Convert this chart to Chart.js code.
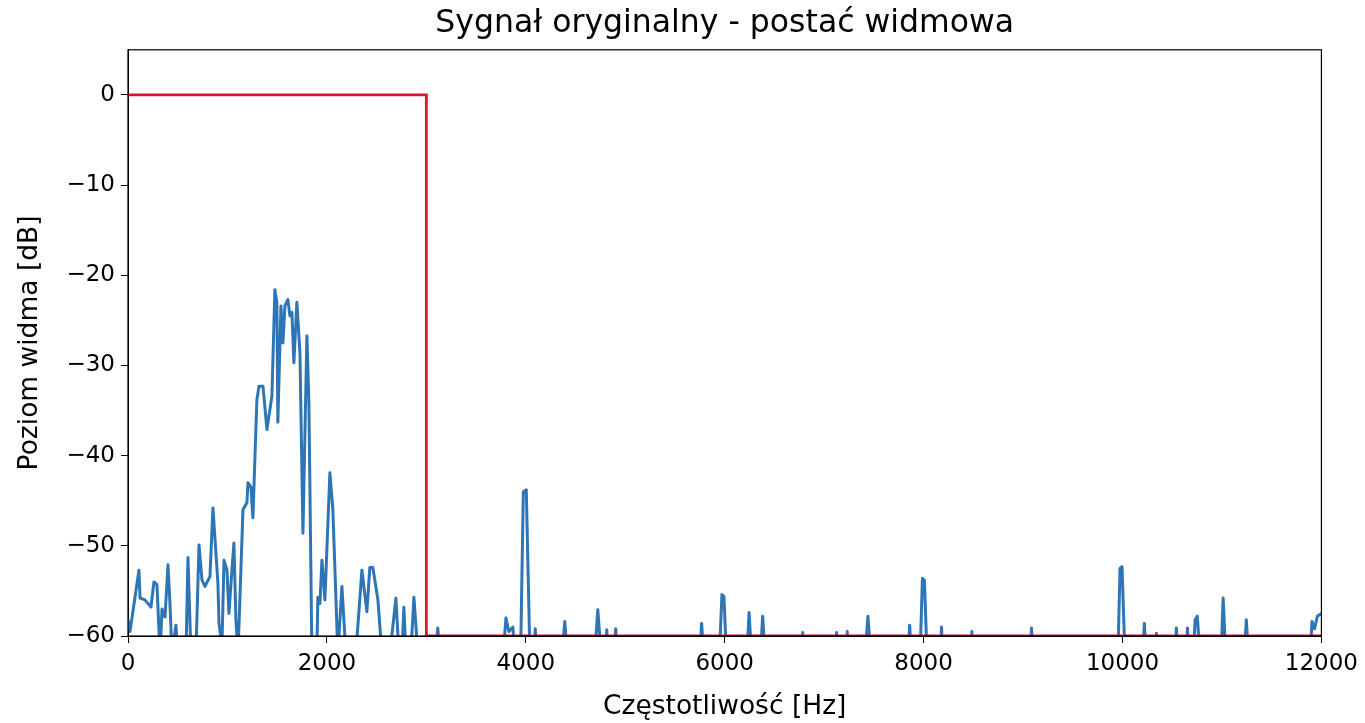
<!DOCTYPE html>
<html>
<head>
<meta charset="utf-8">
<title>Sygnał oryginalny - postać widmowa</title>
<script src="https://cdn.jsdelivr.net/npm/chart.js@4/dist/chart.umd.min.js"></script>
<style>
  html, body { margin: 0; padding: 0; background: #fff; }
  #wrap { width: 1365px; height: 723px; }
</style>
</head>
<body>
<div id="wrap"><canvas id="spectrum" width="1365" height="723"></canvas></div>
<script>
// spectrum of the original signal (Hz / dB), values below -60 fall outside the plot
const freqHz = [
  0, 20, 110, 121, 171, 231, 261, 291, 322, 342, 372, 402, 422, 442, 482, 502,
  583, 603, 633, 683, 714, 744, 774, 824, 854, 904, 915, 945, 965, 995, 1015, 1045,
  1065, 1085, 1106, 1156, 1196, 1206, 1236, 1256, 1296, 1317, 1357, 1397, 1447, 1477,
  1497, 1507, 1538, 1558, 1578, 1608, 1628, 1648, 1668, 1698, 1729, 1759, 1799, 1819,
  1849, 1899, 1909, 1930, 1950, 1980, 2030, 2060, 2110, 2151, 2191, 2291, 2352, 2402,
  2432, 2462, 2513, 2553, 2633, 2694, 2724, 2754, 2774, 2794, 2844, 2875, 2915, 2960,
  3080, 3115, 3150, 3760, 3800, 3830, 3870, 3900, 3945, 3975, 4005, 4045, 4075, 4095, 4115,
  4350, 4392, 4430, 4680, 4724, 4770, 4800, 4814, 4830, 4880, 4904, 4930,
  5740, 5768, 5800, 5940, 5972, 5992, 6025, 6215, 6245, 6280, 6350, 6382, 6415,
  6770, 6784, 6800, 7110, 7125, 7140, 7215, 7232, 7250, 7400, 7440, 7480,
  7835, 7860, 7885, 7960, 7988, 8008, 8040, 8160, 8180, 8200, 8470, 8485, 8500,
  9060, 9085, 9110, 9950, 9975, 9995, 10030, 10195, 10220, 10245, 10325, 10341, 10358,
  10520, 10542, 10565, 10630, 10653, 10675, 10705, 10730, 10752, 10790,
  10985, 11012, 11045, 11215, 11245, 11275, 11880, 11905, 11930, 11960, 12000
];
const levelDb = [
  -58.2, -59.5, -52.7, -55.8, -56, -56.8, -54, -54.3, -62, -57, -57.9, -52.1, -56.4, -62, -58.8, -62,
  -62, -51.3, -62, -62, -49.9, -53.8, -54.5, -53.4, -45.8, -54.1, -58.6, -61, -51.6, -52.7, -57.5, -52.7,
  -49.7, -58.2, -62, -46, -45.2, -43, -43.5, -46.9, -33.8, -32.3, -32.3, -37.1, -33.4, -21.6,
  -23, -36.3, -23.4, -27.5, -23.4, -22.7, -24.5, -24.1, -29.7, -23, -28.6, -48.6, -26.7, -34.1,
  -62, -62, -55.7, -56.4, -51.6, -56, -41.9, -46, -62, -54.5, -62, -62, -52.7, -57.3,
  -52.4, -52.4, -56, -62, -62, -55.8, -62, -62, -56.8, -62, -62, -55.7, -62, -64,
  -64, -59.1, -64, -64, -58, -59.5, -59, -64, -64, -44, -43.8, -64, -64, -59.2, -64,
  -64, -58.4, -64, -64, -57.1, -64, -64, -59.3, -64, -64, -59.2, -64,
  -64, -58.6, -64, -64, -55.4, -55.6, -64, -64, -57.4, -64, -64, -57.8, -64,
  -64, -59.6, -64, -64, -59.6, -64, -64, -59.5, -64, -64, -57.8, -64,
  -64, -58.8, -64, -64, -53.6, -53.8, -64, -64, -59, -64, -64, -59.5, -64,
  -64, -59.1, -64, -64, -52.5, -52.3, -64, -64, -58.6, -64, -64, -59.7, -64,
  -64, -59.1, -64, -64, -59.1, -64, -64, -58.2, -57.8, -64,
  -64, -55.8, -64, -64, -58.2, -64, -64, -58.4, -59.2, -57.8, -57.5
];

// low-pass filter mask
const filterHz = [0, 3000, 3000, 12000];
const filterDb = [0, 0, -60, -60];

const xTicks = [0, 2000, 4000, 6000, 8000, 10000, 12000];
const yTicks = [0, -10, -20, -30, -40, -50, -60];

const FONT = "'DejaVu Sans', sans-serif";

function toPoints(xs, ys) {
  return xs.map((x, i) => ({ x: x, y: ys[i] }));
}

// center the title over the plot area instead of the whole canvas
const titleOverAxes = {
  id: "titleOverAxes",
  afterLayout(chart) {
    const t = chart.titleBlock;
    if (t) {
      t.left = chart.chartArea.left;
      t.right = chart.chartArea.right;
    }
  }
};

// full black frame around the plot area, drawn over the lines
const framePlugin = {
  id: "frame",
  afterDatasetsDraw(chart) {
    const a = chart.chartArea;
    const ctx = chart.ctx;
    ctx.save();
    ctx.strokeStyle = "#000";
    ctx.lineWidth = 1.2;
    ctx.strokeRect(a.left, a.top, a.right - a.left, a.bottom - a.top);
    ctx.restore();
  }
};

new Chart(document.getElementById("spectrum"), {
  type: "line",
  data: {
    datasets: [
      {
        label: "filtr",
        data: toPoints(filterHz, filterDb),
        borderColor: "#dc1430",
        borderWidth: 2.8,
        pointRadius: 0,
        tension: 0,
        order: 0
      },
      {
        label: "widmo",
        data: toPoints(freqHz, levelDb),
        borderColor: "#2e75b5",
        borderWidth: 3,
        borderJoinStyle: "round",
        pointRadius: 0,
        tension: 0,
        order: 1
      }
    ]
  },
  options: {
    responsive: false,
    animation: false,
    layout: { padding: { left: 0, right: 43, top: 0, bottom: 0 } },
    plugins: {
      legend: { display: false },
      tooltip: { enabled: false },
      title: {
        display: true,
        text: "Sygnał oryginalny - postać widmowa",
        color: "#000",
        font: { family: FONT, size: 31.5, weight: "normal" },
        padding: { top: 5, bottom: 7 }
      }
    },
    scales: {
      x: {
        type: "linear",
        min: 0,
        max: 12000,
        afterBuildTicks: s => { s.ticks = xTicks.map(v => ({ value: v })); },
        afterFit: s => { s.height = 87; },
        grid: { drawOnChartArea: false, drawTicks: true, tickLength: 7, tickColor: "#000" },
        border: { display: true, color: "#000" },
        ticks: {
          color: "#000",
          padding: 7,
          maxRotation: 0,
          font: { family: FONT, size: 23 },
          callback: v => String(v)
        },
        title: {
          display: true,
          text: "Częstotliwość [Hz]",
          color: "#000",
          font: { family: FONT, size: 26.5 },
          padding: { top: 0, bottom: 0 }
        }
      },
      y: {
        type: "linear",
        min: -60,
        max: 5,
        afterBuildTicks: s => { s.ticks = yTicks.map(v => ({ value: v })); },
        afterFit: s => { s.width = 128; },
        grid: { drawOnChartArea: false, drawTicks: true, tickLength: 7, tickColor: "#000" },
        border: { display: true, color: "#000" },
        ticks: {
          color: "#000",
          padding: 6,
          font: { family: FONT, size: 23 },
          callback: v => String(v).replace("-", "\u2212")
        },
        title: {
          display: true,
          text: "Poziom widma [dB]",
          color: "#000",
          font: { family: FONT, size: 26.5 },
          padding: { top: 14, bottom: 0 }
        }
      }
    }
  },
  plugins: [titleOverAxes, framePlugin]
});
</script>
</body>
</html>
